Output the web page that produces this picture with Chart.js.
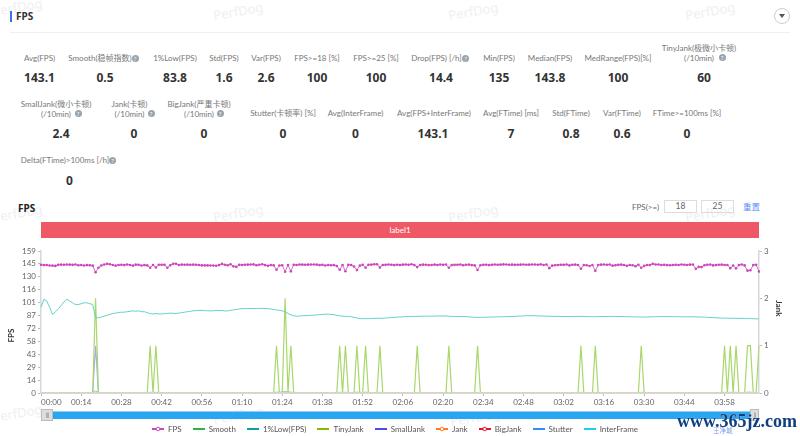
<!DOCTYPE html>
<html>
<head>
<meta charset="utf-8">
<script src="https://cdn.jsdelivr.net/npm/chart.js@4.4.1/dist/chart.umd.min.js"></script>
<style>
  html, body { margin: 0; padding: 0; background: #fff; }
  body { width: 800px; height: 436px; position: relative; overflow: hidden; font-family: Lato, "Noto Sans CJK SC", sans-serif; color: #666; }
  .abs { position: absolute; white-space: nowrap; }
  .lbl { font-size: 8px; line-height: 10px; color: #777; transform: translateX(-50%); }
  .val { font-size: 12px; line-height: 14px; font-weight: 700; color: #333; transform: translateX(-50%); font-family: "Noto Sans", sans-serif; }
  .help { position: absolute; width: 7px; height: 7px; border-radius: 50%; background: #9aa4ae; color: #fff; font-size: 6px; line-height: 7px; text-align: center; }
  .mark { position: absolute; font-size: 13px; font-weight: 400; color: #eef0f2; transform: rotate(-10deg); font-family: "Noto Sans", sans-serif; }
  .box { position: absolute; top: 200px; height: 11px; width: 31px; border: 1px solid #ddd; font-size: 8.5px; line-height: 11px; text-align: center; color: #666; }
  #wrap { position: absolute; left: 0; top: 240px; width: 800px; height: 205px; }
</style>
</head>
<body>
<div id="page"></div>
<div id="wrap"><canvas id="fpsChart" width="800" height="205"></canvas></div>
<div id="over"></div>
<script>
// values, one sample per second
const fps = [
  143.6,143.2,143.4,142.8,142.6,142.3,143.5,143.7,143.6,143.8,
  143.7,143.5,143.8,143.0,143.4,142.7,143.2,143.0,142.6,135.2,
  140.2,142.8,143.8,144.6,144.2,143.3,142.6,143.4,143.6,143.2,
  143.8,143.4,142.6,143.7,143.5,142.7,143.2,142.9,140.3,143.4,
  140.6,143.6,143.6,143.5,140.2,143.1,144.6,144.8,143.4,143.7,
  143.6,143.7,143.5,143.7,143.6,143.4,142.9,142.9,142.9,142.8,
  142.7,142.5,143.2,144.6,143.6,143.0,144.2,141.8,141.2,143.5,
  143.3,143.6,143.7,143.8,144.0,143.0,143.6,144.1,143.2,142.4,
  143.2,143.0,138.0,142.8,143.1,135.8,143.4,136.2,143.6,143.3,
  143.8,143.7,143.6,143.7,143.8,143.8,143.7,143.2,143.5,142.8,
  143.4,143.0,143.2,142.2,138.0,143.3,136.4,143.5,143.3,141.6,
  137.6,142.6,143.6,140.2,143.5,143.7,144.1,144.2,140.6,143.4,
  143.5,143.8,143.6,143.2,143.6,143.4,143.7,143.8,143.5,144.1,
  143.2,141.0,143.4,143.7,143.6,143.2,143.3,143.7,143.4,143.8,
  143.5,143.9,140.2,143.2,143.5,143.6,143.8,143.1,143.6,143.7,
  143.2,142.9,137.8,143.0,143.5,143.6,143.2,143.5,143.8,143.6,
  143.7,144.0,143.8,143.6,143.7,143.5,143.6,143.7,143.8,143.6,
  143.7,143.8,143.9,143.6,144.0,143.4,143.8,139.8,142.6,143.1,
  143.3,143.6,143.5,143.8,142.9,143.6,143.7,143.4,139.2,143.2,
  143.1,142.2,143.4,136.8,143.3,143.7,143.8,143.6,143.8,142.6,
  143.1,143.5,143.7,143.4,142.4,143.3,143.0,142.0,143.5,140.2,
  142.3,143.3,143.2,144.6,143.9,143.8,143.4,143.5,143.2,143.0,
  143.3,143.5,143.3,143.8,143.6,143.4,143.7,143.8,139.0,141.2,
  141.0,143.0,143.6,143.8,142.9,143.2,143.6,143.7,143.3,143.4,
  139.8,142.8,139.6,143.2,143.8,142.9,137.0,137.4,143.3,143.6,
  136.0
];
const smooth = [
  0,0,0,0,0,0,0,0,0,0,
  0,0,0,0,0,0,0,0,0.6,2.4,
  0.4,0,0,0,0,0,0,0,0,0,
  0,0,0,0,0,0,0,0.5,0.8,0.6,
  0.8,0.4,0,0,0,0,0,0,0,0,
  0,0,0,0,0,0,0,0,0,0,
  0,0,0,0,0,0,0,0,0,0,
  0,0,0,0,0,0,0,0,0,0,
  0,0.6,1.0,0.8,1.2,1.6,1.2,1.0,0.5,0,
  0,0,0,0,0,0,0,0,0,0,
  0,0,0,0.5,0.8,0.6,0.8,0.4,0,0.5,
  1.0,0.5,0.5,1.0,0.4,0,0,0.4,0.8,0.4,
  0,0,0,0,0,0,0,0,0,0,
  0,0.6,0.3,0,0,0,0,0,0,0,
  0,0.4,0.6,0.3,0,0,0,0,0,0,
  0,0.3,0.6,0.3,0,0,0,0,0,0,
  0,0,0,0,0,0,0,0,0,0,
  0,0,0,0,0,0,0,0,0,0,
  0,0,0,0,0,0,0,0.4,0.8,0.4,
  0,0,0.4,0.8,0.4,0,0,0,0,0,
  0,0,0,0,0,0,0,0,0.4,0.8,
  0.4,0,0,0,0,0,0,0,0,0,
  0,0,0,0,0,0,0,0,0,0,
  0,0,0,0,0,0,0,0.4,0.8,0.6,
  0.8,0.6,0.8,0.5,0,0.4,1.0,1.0,0.4,0.4,
  0.8
];
const low1 = [
  96,105,103,96,88,91,94,98,102,105,
  103,101,99,99,100,101,101,100,99,85,
  84,85,86,87,88,89,89.5,90,90.5,90.5,
  91,91.5,92,91.5,92,91,91,90,89,88.5,
  89,88.5,88.5,88.8,89,89.5,89.2,89,89.5,90,
  90.5,91,91.5,92,92.3,92.5,92.5,92.3,92,92,
  92,92.5,92.3,92.5,91.8,92,92.5,93,93.5,94,
  94.5,94.5,94.5,94.8,94.5,94.6,94.7,94.8,94.5,94.3,
  94.2,93.5,93,92.5,92,91,89,87.5,86.5,86,
  86.2,86.5,86.6,86.8,87,87.2,87.5,87.7,88,88.2,
  88.3,88,87.7,87,86.5,86,85.8,85.6,85.5,84.7,
  84,83.4,83.2,83.2,83.3,83.4,83.5,83.7,83.6,83.7,
  84,84.2,84.5,84.7,85,85.1,85.3,85.5,85.6,85.7,
  85.8,85.8,85.9,86,86.1,86,86,86.1,86.2,86.2,
  86.2,86.3,86,85.9,85.7,85.7,85.6,85.6,85.5,85.3,
  85,84.8,84.6,84.6,84.8,84.8,85,85,85.1,85.3,
  85.3,85.4,85.5,85.6,85.7,85.8,86,86.1,86.3,86.5,
  86.5,86.6,86.5,86.4,86.2,86.2,86,85.9,85.8,85.8,
  85.8,85.7,85.7,85.6,85.6,85.7,85.8,85.8,85.7,85.7,
  85.6,85.5,85.4,85.4,85.5,85.6,85.6,85.7,85.7,85.8,
  85.7,85.6,85.6,85.5,85.4,85.3,85.3,85.2,85.1,85,
  85,85.1,85.2,85.3,85.4,85.5,85.6,85.6,85.6,85.5,
  85.5,85.4,85.4,85.3,85.3,85.2,85.3,85.3,85.2,85.1,
  85,84.9,84.8,84.6,84.4,84.2,84,83.9,83.8,83.8,
  83.7,83.7,83.6,83.5,83.5,83.4,83.3,83.3,83.2,83.1,
  83
];
const tinyJank = [
  0,0,0,0,0,0,0,0,0,0,
  0,0,0,0,0,0,0,0,0,2,
  0,0,0,0,0,0,0,0,0,0,
  0,0,0,0,0,0,0,0,1,0,
  1,0,0,0,0,0,0,0,0,0,
  0,0,0,0,0,0,0,0,0,0,
  0,0,0,0,0,0,0,0,0,0,
  0,0,0,0,0,0,0,0,0,0,
  0,0,1,0,0,2,0,1,0,0,
  0,0,0,0,0,0,0,0,0,0,
  0,0,0,0,1,0,1,0,0,0,
  1,0,0,1,0,0,0,0,1,0,
  0,0,0,0,0,0,0,0,0,0,
  0,1,0,0,0,0,0,0,0,0,
  0,0,1,0,0,0,0,0,0,0,
  0,0,1,0,0,0,0,0,0,0,
  0,0,0,0,0,0,0,0,0,0,
  0,0,0,0,0,0,0,0,0,0,
  0,0,0,0,0,0,0,0,1,0,
  0,0,0,1,0,0,0,0,0,0,
  0,0,0,0,0,0,0,0,0,1,
  0,0,0,0,0,0,0,0,0,0,
  0,0,0,0,0,0,0,0,0,0,
  0,0,0,0,0,0,0,0,1,0,
  1,0,1,0,0,0,1,1,0,0,
  1
];
const smallJank = [
  0,0,0,0,0,0,0,0,0,0,
  0,0,0,0,0,0,0,0,0,1,
  0,0,0,0,0,0,0,0,0,0,
  0,0,0,0,0,0,0,0,0,0,
  0,0,0,0,0,0,0,0,0,0,
  0,0,0,0,0,0,0,0,0,0,
  0,0,0,0,0,0,0,0,0,0,
  0,0,0,0,0,0,0,0,0,0,
  0,0,0,0,0,0,0,0,0,0,
  0,0,0,0,0,0,0,0,0,0,
  0,0,0,0,0,0,0,0,0,0,
  0,0,0,0,0,0,0,0,0,0,
  0,0,0,0,0,0,0,0,0,0,
  0,0,0,0,0,0,0,0,0,0,
  0,0,0,0,0,0,0,0,0,0,
  0,0,0,0,0,0,0,0,0,0,
  0,0,0,0,0,0,0,0,0,0,
  0,0,0,0,0,0,0,0,0,0,
  0,0,0,0,0,0,0,0,0,0,
  0,0,0,0,0,0,0,0,0,0,
  0,0,0,0,0,0,0,0,0,0,
  0,0,0,0,0,0,0,0,0,0,
  0,0,0,0,0,0,0,0,0,0,
  0,0,0,0,0,0,0,0,0,0,
  0,0,0,0,0,0,0,0,0,0,
  0
];
// Jank, BigJank, Stutter and InterFrame never leave the floor in this capture
const noEvents = [
  0,0,0,0,0,0,0,0,0,0, 0,0,0,0,0,0,0,0,0,0, 0,0,0,0,0,0,0,0,0,0, 0,0,0,0,0,0,0,0,0,0, 0,0,0,0,0,0,0,0,0,0,
  0,0,0,0,0,0,0,0,0,0, 0,0,0,0,0,0,0,0,0,0, 0,0,0,0,0,0,0,0,0,0, 0,0,0,0,0,0,0,0,0,0, 0,0,0,0,0,0,0,0,0,0,
  0,0,0,0,0,0,0,0,0,0, 0,0,0,0,0,0,0,0,0,0, 0,0,0,0,0,0,0,0,0,0, 0,0,0,0,0,0,0,0,0,0, 0,0,0,0,0,0,0,0,0,0,
  0,0,0,0,0,0,0,0,0,0, 0,0,0,0,0,0,0,0,0,0, 0,0,0,0,0,0,0,0,0,0, 0,0,0,0,0,0,0,0,0,0, 0,0,0,0,0,0,0,0,0,0,
  0,0,0,0,0,0,0,0,0,0, 0,0,0,0,0,0,0,0,0,0, 0,0,0,0,0,0,0,0,0,0, 0,0,0,0,0,0,0,0,0,0, 0,0,0,0,0,0,0,0,0,0,
  0
];
const jank = noEvents;
const bigJank = noEvents;
const stutter = noEvents;
const interFrame = noEvents;

const leftTickLabels = [0, 14, 29, 43, 58, 72, 87, 101, 116, 130, 145, 159];
const rightTickLabels = [0, 1, 2, 3];
const xTickEvery = 14;
const chartFont = '"Lato", sans-serif';

// stat cells: label lines, centre x, y of the first line, value, value x, value y, help icon x
const statCells = [
  [['Avg(FPS)'], 39.5, 53, '143.1', 39.5, 71],
  [['Smooth(稳帧指数)'], 100, 53, '0.5', 105, 71, 135],
  [['1%Low(FPS)'], 175, 53, '83.8', 175, 71],
  [['Std(FPS)'], 224, 53, '1.6', 224, 71],
  [['Var(FPS)'], 266, 53, '2.6', 266, 71],
  [['FPS>=18 [%]'], 317, 53, '100', 317, 71],
  [['FPS>=25 [%]'], 376, 53, '100', 376, 71],
  [['Drop(FPS) [/h]'], 436.5, 53, '14.4', 441, 71, 465.5],
  [['Min(FPS)'], 499, 53, '135', 499, 71],
  [['Median(FPS)'], 550, 53, '143.8', 550, 71],
  [['MedRange(FPS)[%]'], 618, 53, '100', 618, 71],
  [['TinyJank(极微小卡顿)', '(/10min)'], 699, 43, '60', 704, 71, 722],
  [['SmallJank(微小卡顿)', '(/10min)'], 56, 99, '2.4', 61, 127, 78],
  [['Jank(卡顿)', '(/10min)'], 129.5, 99, '0', 134, 127, 151],
  [['BigJank(严重卡顿)', '(/10min)'], 199, 99, '0', 204, 127, 220],
  [['Stutter(卡顿率) [%]'], 283, 108, '0', 283, 127],
  [['Avg(InterFrame)'], 355.5, 108, '0', 355.5, 127],
  [['Avg(FPS+InterFrame)'], 434, 108, '143.1', 433, 127],
  [['Avg(FTime) [ms]'], 511, 108, '7', 511, 127],
  [['Std(FTime)'], 571, 108, '0.8', 571, 127],
  [['Var(FTime)'], 622, 108, '0.6', 622, 127],
  [['FTime>=100ms [%]'], 687, 108, '0', 687, 127],
  [['Delta(FTime)>100ms [/h]'], 65, 155, '0', 69.5, 174, 112.5]
];

// builds the html around the chart
function addDiv(parent, cls, css, text) {
  const d = document.createElement('div');
  d.className = cls;
  d.style.cssText = css;
  if (text !== undefined) d.textContent = text;
  parent.appendChild(d);
  return d;
}

const page = document.getElementById('page');
[[-8,-2],[213,2],[448,2],[685,2],[-8,204],[213,204],[448,204],[685,204],[-8,404],[213,406],[450,408],[690,408]].forEach(p => {
  addDiv(page, 'mark', 'left:' + p[0] + 'px;top:' + p[1] + 'px', 'PerfDog');
});
addDiv(page, 'abs', 'left:10px;top:11px;width:1.5px;height:11px;background:#3d6df2');
addDiv(page, 'abs', 'left:16px;top:9px;font-family:\'Noto Sans\',sans-serif;font-size:10px;line-height:14px;font-weight:700;color:#333', 'FPS');
addDiv(page, 'abs', 'left:10px;top:32px;width:780px;height:1px;background:#eef0f5');
addDiv(page, 'abs', 'left:774px;top:8px;width:14px;height:14px;border:1px solid #c9ced6;border-radius:50%');
addDiv(page, 'abs', 'left:779px;top:14px;width:0;height:0;border-left:3px solid transparent;border-right:3px solid transparent;border-top:4px solid #555');

statCells.forEach(c => {
  c[0].forEach((line, i) => {
    addDiv(page, 'abs lbl', 'left:' + c[1] + 'px;top:' + (c[2] + i * 9.5) + 'px', line);
  });
  addDiv(page, 'abs val', 'left:' + c[4] + 'px;top:' + c[5] + 'px', c[3]);
  if (c[6]) {
    const yHelp = c[2] + (c[0].length - 1) * 9.5 + 1.5;
    addDiv(page, 'help', 'left:' + (c[6] - 3.5) + 'px;top:' + yHelp + 'px', '?');
  }
});

addDiv(page, 'abs', 'left:18px;top:201px;font-family:\'Noto Sans\',sans-serif;font-size:10px;line-height:14px;font-weight:700;color:#222', 'FPS');
addDiv(page, 'abs', 'left:632px;top:201px;font-size:8px;line-height:12px;color:#666', 'FPS(>=)');
addDiv(page, 'box', 'left:664px', '18');
addDiv(page, 'box', 'left:701px', '25');
addDiv(page, 'abs', 'left:743px;top:201px;font-size:8.5px;line-height:12px;color:#5b8ff9', '重置');
addDiv(page, 'abs', 'left:41px;top:222px;width:718px;height:16px;background:#ef5966;color:#fff;font-size:8px;line-height:16px;text-align:center', 'label1');

const over = document.getElementById('over');
addDiv(over, 'abs', 'left:41px;top:411px;width:718px;height:8px;background:#2aa5ef;border-top:1px solid #8ed0f7;box-sizing:border-box');
addDiv(over, 'abs', 'left:41px;top:409px;width:12px;height:12px;background:#ddd;border:1px solid #bbb;box-sizing:border-box;color:#777;font-size:6px;line-height:10px;text-align:center;letter-spacing:-0.5px', '|||');
addDiv(over, 'abs', 'left:750px;top:409px;width:9px;height:12px;background:#ddd;border:1px solid #bbb;box-sizing:border-box;color:#777;font-size:6px;line-height:10px;text-align:center;letter-spacing:-0.5px', '||');
addDiv(over, 'abs', 'left:677px;top:411px;font-family:\'Liberation Serif\',serif;font-size:18px;line-height:20px;font-weight:700;color:#0f3f7f;text-shadow:0 0 1px #fff', 'www.365jz.com');
addDiv(over, 'abs', 'left:713px;top:427px;font-size:6.5px;line-height:8px;color:#7f9be8', '王净城');

// legend swatch: short line, optional dot in the middle
function legendMark(color, dot) {
  const c = document.createElement('canvas');
  c.width = 12;
  c.height = 8;
  const x = c.getContext('2d');
  x.fillStyle = color;
  x.fillRect(0, 3, 12, 2);
  if (dot) {
    x.beginPath();
    x.arc(6, 4, 1.8, 0, Math.PI * 2);
    x.fillStyle = '#fff';
    x.fill();
    x.lineWidth = 1;
    x.strokeStyle = color;
    x.stroke();
  }
  return c;
}

function series(label, data, color, axis, legendColor, dot, width, radius, order) {
  return {
    label: label,
    data: data,
    yAxisID: axis,
    order: order,
    borderColor: color,
    backgroundColor: color,
    borderWidth: width,
    pointRadius: radius,
    pointHoverRadius: radius,
    pointBorderWidth: 0,
    tension: 0,
    fill: false,
    legendColor: legendColor,
    legendDot: dot
  };
}

const timeLabels = fps.map((v, i) => {
  const m = Math.floor(i / 60), s = i % 60;
  return (m < 10 ? '0' : '') + m + ':' + (s < 10 ? '0' : '') + s;
});

// lower order draws on top: the orange Jank dots sit above the other floor lines
const datasets = [
  series('FPS', fps, '#cd45ba', 'y', '#cd45ba', true, 0.8, 1.3, 1),
  series('Smooth', smooth, '#7ed69a', 'y', '#2db34a', false, 1, 0, 2),
  series('1%Low(FPS)', low1, '#63d2c6', 'y', '#0ca0a0', false, 1, 0, 3),
  series('TinyJank', tinyJank, '#a8d76a', 'y1', '#7fbf00', false, 1.2, 0, 4),
  series('SmallJank', smallJank, '#a9a9f2', 'y1', '#4a4cf0', false, 1.2, 0, 5),
  series('Jank', jank, '#ffd9c2', 'y1', '#ff7a20', true, 1, 0.8, 0),
  series('BigJank', bigJank, '#f09aa2', 'y1', '#e0162b', true, 1, 0, 6),
  series('Stutter', stutter, '#8fc1ff', 'y1', '#2f8cff', false, 1, 0, 7),
  series('InterFrame', interFrame, '#8fe8f0', 'y1', '#18d5e6', false, 1, 0, 8)
];

new Chart(document.getElementById('fpsChart').getContext('2d'), {
  type: 'line',
  data: { labels: timeLabels, datasets: datasets },
  options: {
    responsive: false,
    animation: false,
    layout: { padding: { left: 7, right: 17, top: 11, bottom: 2 } },
    plugins: {
      tooltip: { enabled: false },
      legend: {
        position: 'bottom',
        labels: {
          usePointStyle: true,
          pointStyleWidth: 12,
          padding: 11,
          color: '#555',
          font: { size: 8, family: chartFont },
          generateLabels: chart => chart.data.datasets.map((d, i) => ({
            text: d.label,
            fontColor: '#555',
            datasetIndex: i,
            pointStyle: legendMark(d.legendColor, d.legendDot)
          }))
        }
      }
    },
    scales: {
      x: {
        grid: {
          drawOnChartArea: false,
          tickLength: 3,
          tickColor: ctx => (ctx.tick && ctx.tick.label === '' ? 'transparent' : '#bbb')
        },
        border: { color: '#d5d8dd', width: 1 },
        afterBuildTicks: axis => {
          axis.ticks = axis.ticks.filter((t, i) => i % xTickEvery === 0 || i === fps.length - 1);
        },
        afterFit: axis => { axis.height = 21; },
        ticks: {
          autoSkip: false,
          maxRotation: 0,
          align: 'inner',
          padding: 2,
          color: '#666',
          font: { size: 8, family: chartFont },
          callback: function (value) {
            return value === fps.length - 1 ? '' : this.getLabelForValue(value);
          }
        }
      },
      y: {
        position: 'left',
        min: 0,
        max: 159,
        grid: { drawOnChartArea: false, tickLength: 3, tickColor: '#bbb' },
        border: { color: '#d5d8dd', width: 1.5 },
        afterFit: axis => { axis.width = 34; },
        title: {
          display: true,
          text: 'FPS              ',
          color: '#333',
          padding: { top: 0, bottom: 0 },
          font: { size: 8, weight: 'bold', family: chartFont }
        },
        ticks: {
          count: leftTickLabels.length,
          autoSkip: false,
          padding: 2,
          color: '#666',
          font: { size: 8, family: chartFont },
          callback: (value, i) => leftTickLabels[i]
        }
      },
      y1: {
        position: 'right',
        min: 0,
        max: 3,
        grid: { drawOnChartArea: false, tickLength: 3, tickColor: '#bbb' },
        border: { color: '#d5d8dd', width: 1.5 },
        afterFit: axis => { axis.width = 24; },
        title: {
          display: true,
          text: 'Jank              ',
          color: '#333',
          padding: { top: 0, bottom: 0 },
          font: { size: 8, weight: 'bold', family: chartFont }
        },
        ticks: {
          stepSize: 1,
          padding: 2,
          color: '#666',
          font: { size: 8, family: chartFont },
          callback: (value, i) => rightTickLabels[i]
        }
      }
    }
  }
});
</script>
</body>
</html>
